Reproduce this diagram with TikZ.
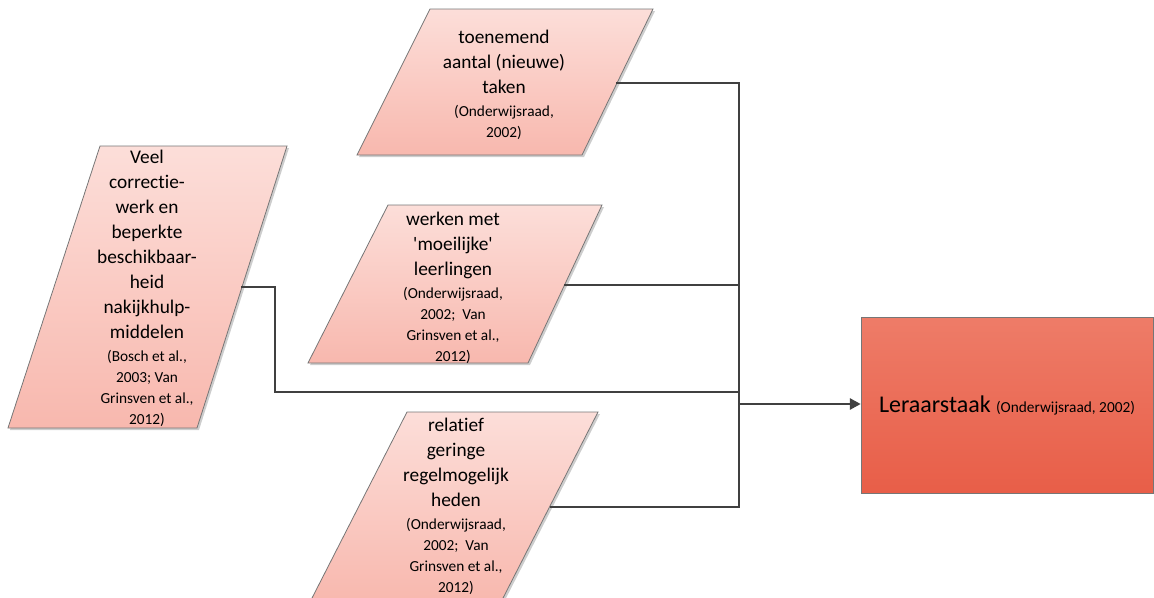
\documentclass[tikz,border=0pt]{standalone}
\usepackage{fontspec}
\setmainfont{Carlito}[Ligatures=NoCommon]
\usetikzlibrary{arrows.meta,calc}

\definecolor{paraTop}{RGB}{252,222,217}
\definecolor{paraBot}{RGB}{248,184,174}
\definecolor{boxTop}{RGB}{238,124,104}
\definecolor{boxBot}{RGB}{232,94,72}
\definecolor{edgegray}{RGB}{118,118,118}
\definecolor{wiregray}{RGB}{64,64,64}
\definecolor{shadowgray}{RGB}{205,205,205}

\newcommand\mainsz{\fontsize{14.5pt}{18.75pt}\selectfont}
\newcommand\citesz{\fontsize{11.5pt}{14.6pt}\selectfont}
\newcommand\goalsz{\fontsize{18pt}{22pt}\selectfont}
% spacing corrections for the smaller citation lines
\newcommand\tocite{\\[-1.5pt]\citesz}
\newcommand\nextcite{\\[-3pt]\citesz}

\tikzset{
  parashape/.style={draw=edgegray, line width=0.6pt, top color=paraTop, bottom color=paraBot},
  shadowshape/.style={fill=shadowgray},
  factor/.style={align=center, font=\mainsz, inner sep=0pt, text=black},
  wire/.style={draw=wiregray, line width=1.05pt},
  arrowwire/.style={wire, -{Triangle[length=8pt,width=8.5pt]}},
  goalbox/.style={draw=edgegray, line width=0.6pt, top color=boxTop, bottom color=boxBot,
    minimum width=219pt, minimum height=132pt, inner sep=0pt, font=\goalsz, text=black}
}

\begin{document}
\begin{tikzpicture}[x=0.75pt,y=-0.75pt]
\useasboundingbox (0,0) rectangle (1154,597);
\clip (0,0) rectangle (1154,597);

% ---- input parallelograms (shadow first, then the shape) ----
% toenemend aantal taken
\fill[shadowshape, shift={(2,2)}] (430,9) -- (653,9) -- (582,155) -- (357,155) -- cycle;
\path[parashape] (430,9) -- (653,9) -- (582,155) -- (357,155) -- cycle;
% werken met moeilijke leerlingen
\fill[shadowshape, shift={(2,2)}] (388,205) -- (602,205) -- (528,363) -- (308,363) -- cycle;
\path[parashape] (388,205) -- (602,205) -- (528,363) -- (308,363) -- cycle;
% relatief geringe regelmogelijkheden
\fill[shadowshape, shift={(2,2)}] (407,412) -- (598,412) -- (501,602) -- (310,602) -- cycle;
\path[parashape] (407,412) -- (598,412) -- (501,602) -- (310,602) -- cycle;
% correctiewerk
\fill[shadowshape, shift={(2,2)}] (100,146) -- (287,146) -- (197,428) -- (8,428) -- cycle;
\path[parashape] (100,146) -- (287,146) -- (197,428) -- (8,428) -- cycle;

% ---- texts ----
\node[factor] (taken) at (504,85)
  {toenemend\\aantal (nieuwe)\\taken\tocite (Onderwijsraad,\nextcite 2002)};
\node[factor] (moeilijk) at (453,288)
  {werken met\\\textquotesingle moeilijke\textquotesingle\\leerlingen\tocite (Onderwijsraad,\nextcite 2002;~ Van\nextcite Grinsven et al.,\nextcite 2012)};
\node[factor] (regel) at (456,506)
  {relatief\\geringe\\regelmogelijk\\heden\tocite (Onderwijsraad,\nextcite 2002;~ Van\nextcite Grinsven et al.,\nextcite 2012)};
\node[factor] (correctie) at (147,288)
  {Veel\\correctie-\\werk en\\beperkte\\beschikbaar-\\heid\\nakijkhulp-\\middelen\tocite (Bosch et al.,\nextcite 2003; Van\nextcite Grinsven et al.,\nextcite 2012)};

% ---- outcome ----
\node[goalbox] (goal) at (1007,405) {Leraarstaak {\citesz (Onderwijsraad, 2002)}};

% ---- connector anchors on the shape edges ----
\coordinate (takenout) at (616,83);
\coordinate (moeilijkout) at (564,285);
\coordinate (regelout) at (550,507);
\coordinate (correctieout) at (241,287);
\coordinate (bend) at (275,392);
\coordinate (join) at (739,404);

% ---- connectors ----
\draw[wire] (takenout) -| (join);
\draw[wire] (regelout) -| (join);
\draw[wire] (moeilijkout) -- (moeilijkout -| join);
\draw[wire] (correctieout) -| (bend) -- (bend -| join);
\draw[arrowwire] (join) -- (join -| goal.west);
\end{tikzpicture}
\end{document}
